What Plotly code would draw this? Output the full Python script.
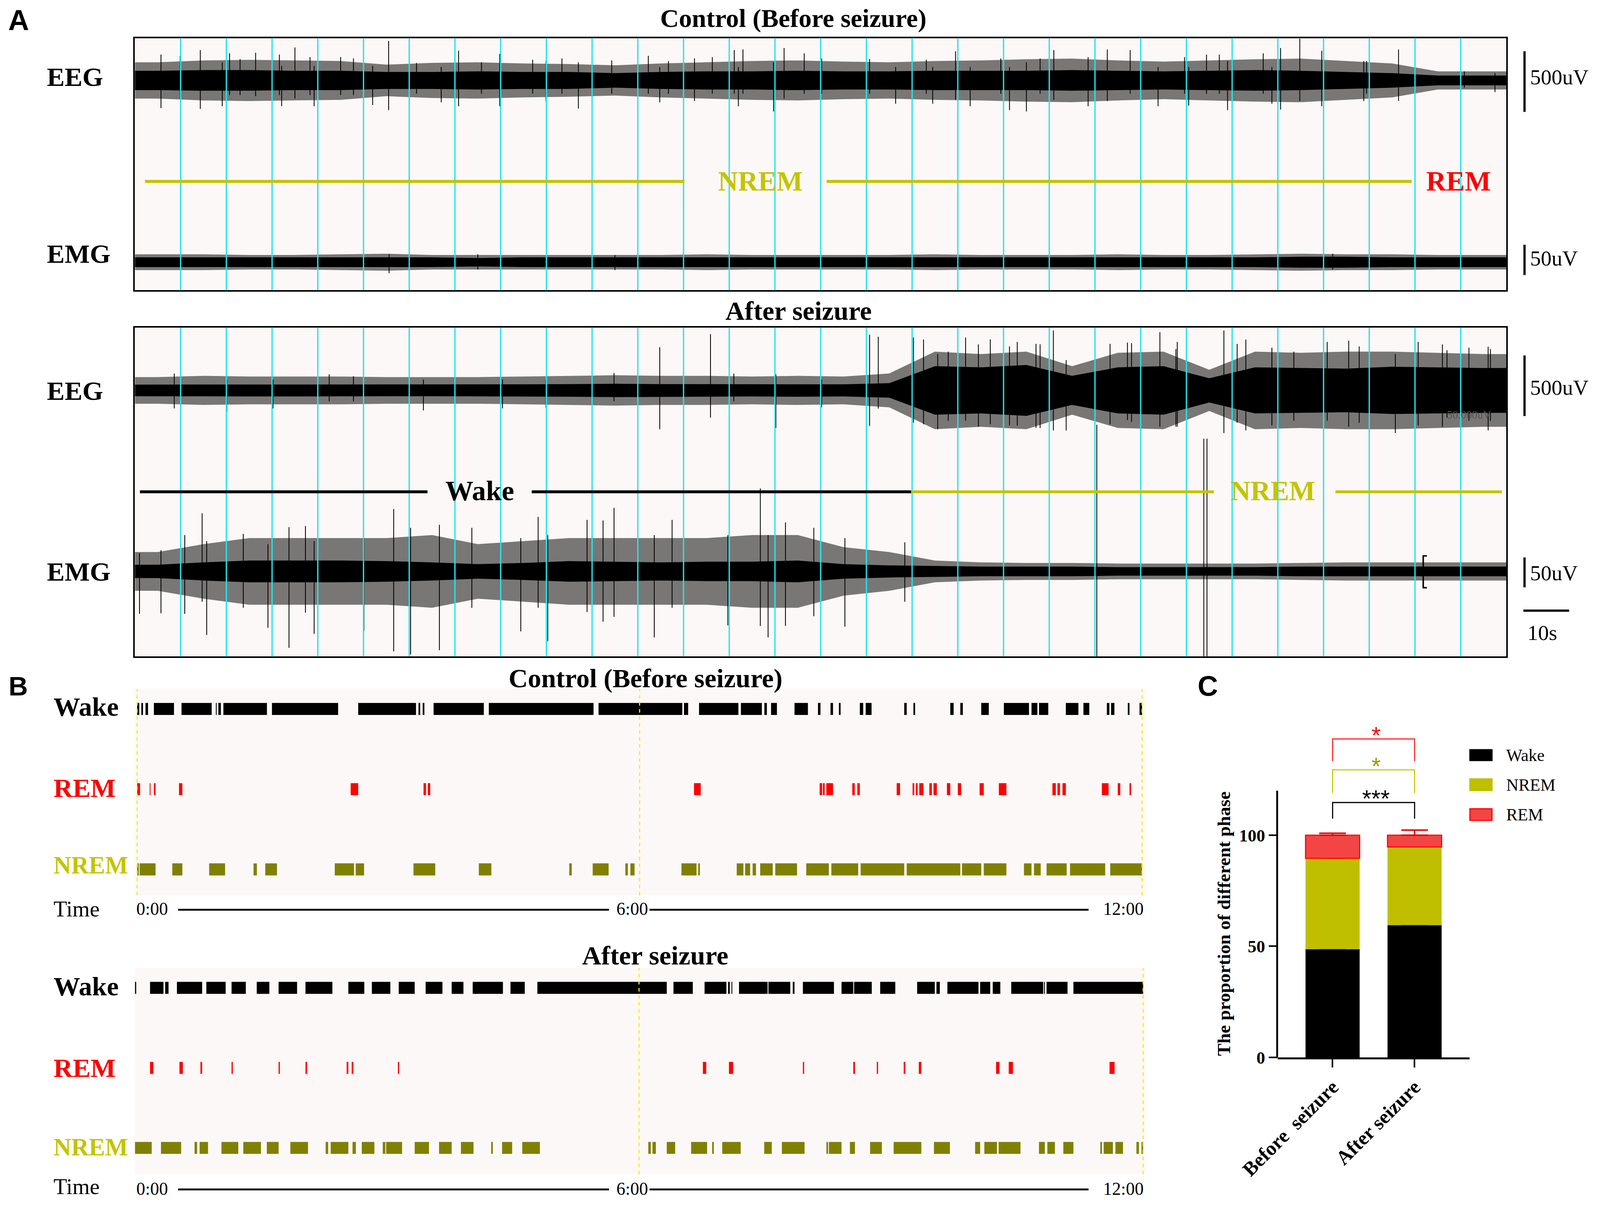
import plotly.graph_objects as go

# layout is designed on the 4317 x 3086 reference grid; positions are stored as
# fractions of that grid and the figure fills the browser window, so px sizes
# (fonts, strokes) are scaled by S to keep them in proportion
W, H = 4317, 3086
S = 0.948
SERIF = "Liberation Serif, Times New Roman, serif"
SANS = "Liberation Sans, Arial, sans-serif"

CYAN = "#22E5EE"
PANEL_BG = "#FCF8F7"
STAGE_YELLOW = "#C4C400"
NREM_DARK = "#808000"
NREM_BAR = "#BFBF00"
RED = "#FF0000"
HALO = "rgba(0,0,0,0.52)"

# ---------------- A: 300 s excerpts, amplitude per 10 s segment (uV) ----------------
seg_t = list(range(5, 300, 10))

ctrl_eeg_core = [80, 85, 85, 80, 80, 70, 70, 75, 70, 70, 60, 70, 75, 75, 80,
                 75, 75, 80, 80, 80, 85, 80, 75, 80, 85, 80, 70, 60, 40, 40]
ctrl_eeg_outer = [150, 165, 170, 165, 160, 130, 145, 150, 140, 135, 125, 140, 150, 160, 165,
                  155, 150, 160, 165, 175, 180, 165, 155, 165, 175, 180, 160, 140, 75, 75]
ctrl_emg_core = [8, 8, 8, 8, 8, 8, 8, 7, 8, 8, 8, 8, 8, 8, 8,
                 8, 8, 8, 8, 8, 8, 8, 8, 8, 8, 9, 9, 8, 8, 8]
ctrl_emg_outer = [13, 13, 12, 12, 13, 14, 12, 12, 12, 12, 12, 12, 13, 12, 12,
                  12, 12, 13, 12, 12, 12, 13, 12, 12, 13, 14, 13, 13, 12, 12]

after_eeg_core = [48, 50, 50, 50, 50, 48, 48, 50, 50, 52, 55, 52, 52, 50, 52,
                  50, 60, 200, 190, 210, 120, 190, 200, 100, 190, 185, 180, 195, 190, 185]
after_eeg_outer = [110, 120, 115, 115, 115, 110, 110, 110, 115, 120, 125, 120, 120, 115, 120,
                   115, 140, 320, 300, 320, 200, 310, 320, 170, 320, 310, 320, 320, 310, 300]
after_emg_core = [11, 15, 18, 18, 18, 17, 15, 12, 14, 17, 16, 15, 16, 16, 18,
                  12, 10, 9, 8, 8, 8, 7, 7, 7, 7, 8, 8, 8, 8, 8]
after_emg_outer = [32, 45, 55, 55, 55, 55, 60, 45, 50, 55, 55, 55, 55, 60, 60,
                   40, 32, 18, 15, 14, 14, 13, 13, 13, 13, 14, 15, 15, 15, 15]

# single visible deflections: (time s, up uV, down uV)
ctrl_eeg_spikes = [
    (5.7, 213, 229), (9.9, 203, 150), (14.3, 250, 235), (19.1, 150, 213), (20.7, 224, 120),
    (23.0, 176, 120), (26.4, 229, 130), (31.6, 213, 120), (32.1, 120, 213), (35.0, 272, 150),
    (38.3, 192, 120), (39.2, 120, 213), (45.0, 192, 120), (47.8, 181, 120), (52.0, 120, 203),
    (55.5, 325, 245), (61.6, 144, 110), (67.0, 110, 181), (70.8, 245, 213), (75.8, 149, 110),
    (79.8, 219, 213), (87.0, 171, 110), (89.9, 160, 170), (93.4, 181, 110), (97.0, 150, 232),
    (104.3, 165, 110), (112.3, 203, 110), (114.8, 110, 181), (116.7, 160, 110),
    (122.4, 181, 170), (126.3, 192, 110), (131.1, 250, 110), (132.0, 110, 213),
    (133.0, 256, 110), (139.7, 150, 256), (142.0, 267, 150), (146.4, 224, 110),
    (150.2, 181, 110), (160.7, 176, 110), (166.4, 110, 192), (173.1, 171, 110),
    (174.5, 110, 192), (179.5, 240, 160), (182.7, 110, 213), (189.4, 181, 110),
    (191.3, 110, 245), (195.0, 150, 256), (198.0, 181, 110), (201.0, 250, 160),
    (208.5, 192, 213), (212.7, 255, 170), (217.7, 250, 110), (220.0, 224, 110),
    (223.8, 110, 213), (229.6, 192, 110), (230.5, 110, 208), (234.4, 213, 110),
    (237.2, 213, 110), (239.0, 160, 245), (246.8, 224, 110), (248.7, 110, 192),
    (250.6, 267, 240), (254.8, 345, 170), (259.6, 245, 213), (268.8, 160, 170),
    (269.4, 160, 110), (276.4, 255, 170), (290.8, 75, 60), (297.5, 60, 96)]
ctrl_emg_spikes = [(20.0, 12, 11), (55.6, 13, 18), (75.0, 13, 12), (105.0, 12, 13),
                   (150.0, 14, 12), (190.0, 13, 12), (230.0, 12, 14), (262.0, 14, 12)]
after_eeg_spikes = [
    (8.6, 139, 149), (20.1, 90, 176), (30.2, 90, 149), (42.5, 133, 90), (47.8, 117, 90),
    (63.1, 90, 165), (80.4, 90, 149), (89.9, 90, 144), (104.8, 144, 90), (110.0, 128, 90),
    (114.8, 357, 320), (125.9, 464, 224), (131.0, 139, 90), (140.2, 133, 309),
    (150.2, 90, 139), (160.7, 459, 293), (162.6, 443, 150), (170.3, 437, 267),
    (172.5, 420, 280), (175.6, 300, 320), (177.9, 320, 250), (181.7, 437, 250),
    (184.5, 380, 300), (187.1, 421, 280), (191.3, 363, 288), (193.0, 400, 290),
    (197.1, 384, 309), (198.0, 380, 310), (200.9, 495, 331), (203.7, 250, 331),
    (213.3, 384, 280), (217.1, 395, 245), (218.0, 390, 260), (220.0, 363, 250),
    (224.2, 480, 300), (227.7, 341, 299), (228.0, 400, 300), (238.2, 495, 352),
    (241.1, 384, 267), (243.0, 420, 330), (248.7, 352, 288), (250.0, 380, 300),
    (253.5, 320, 250), (260.8, 400, 250), (265.5, 410, 300), (267.8, 363, 267),
    (270.0, 380, 320), (275.7, 300, 352), (280.7, 400, 290), (286.0, 380, 300),
    (287.0, 331, 224), (291.8, 352, 250), (296.0, 360, 330), (296.5, 341, 250)]
after_emg_spikes = [
    (1.0, 30, 70), (5.7, 35, 69), (10.9, 60, 70), (14.7, 96, 50), (15.7, 50, 105),
    (23.7, 62, 60), (29.1, 45, 93), (33.7, 73, 126), (37.3, 75, 68), (39.2, 50, 103),
    (50.1, 55, 98), (56.6, 103, 132), (60.3, 72, 137), (66.6, 77, 130), (73.7, 72, 60),
    (84.4, 55, 99), (88.2, 90, 60), (90.3, 60, 115), (98.9, 85, 67), (102.4, 84, 83),
    (104.8, 105, 75), (113.6, 60, 109), (117.5, 85, 60), (129.7, 60, 89),
    (136.8, 137, 90), (138.5, 60, 109), (142.3, 81, 90), (148.5, 72, 74),
    (155.3, 55, 91), (168.4, 48, 50), (210.4, 242, 140), (233.8, 219, 140),
    (234.5, 219, 140)]

EEG_GAIN = 156 / 500   # grid px per uV (500 uV scale bar)
EMG_GAIN = 78 / 50     # grid px per uV (50 uV scale bar)

# ---------------- B: 12 h hypnograms, (start h, end h) ----------------
ctrl_wake = [(0.0, 0.025), (0.05, 0.07), (0.10, 0.13), (0.20, 0.44), (0.53, 0.89), (0.94, 0.95),
             (0.97, 1.00), (1.03, 1.55), (1.61, 2.40), (2.64, 3.33), (3.36, 3.38), (3.41, 3.43),
             (3.54, 4.14), (4.20, 5.45), (5.51, 6.51), (6.53, 6.58), (6.71, 7.18), (7.21, 7.46),
             (7.49, 7.52), (7.57, 7.64), (7.85, 8.01), (8.13, 8.16), (8.28, 8.31), (8.38, 8.40),
             (8.63, 8.67), (8.70, 8.77), (9.16, 9.19), (9.27, 9.29), (9.71, 9.75), (9.83, 9.86),
             (10.08, 10.17), (10.35, 10.65), (10.68, 10.75), (10.77, 10.88), (11.09, 11.24),
             (11.30, 11.37), (11.58, 11.61), (11.63, 11.67), (11.83, 11.85), (11.97, 12.0)]
ctrl_rem = [(0.0, 0.035), (0.15, 0.16), (0.20, 0.22), (0.50, 0.54), (2.55, 2.64), (3.42, 3.45),
            (3.47, 3.50), (6.65, 6.73), (8.15, 8.18), (8.19, 8.21), (8.23, 8.31), (8.54, 8.57),
            (8.60, 8.63), (9.07, 9.11), (9.26, 9.28), (9.30, 9.32), (9.34, 9.39), (9.46, 9.49),
            (9.51, 9.55), (9.67, 9.71), (9.80, 9.84), (10.06, 10.11), (10.29, 10.38),
            (10.93, 10.97), (10.99, 11.02), (11.05, 11.09), (11.52, 11.60), (11.71, 11.74),
            (11.85, 11.87)]
ctrl_nrem = [(0.0, 0.02), (0.03, 0.22), (0.42, 0.54), (0.86, 1.05), (1.39, 1.43), (1.53, 1.67),
             (2.36, 2.59), (2.61, 2.71), (3.30, 3.56), (4.08, 4.23), (5.16, 5.19), (5.44, 5.63),
             (5.83, 5.86), (5.89, 5.94), (6.50, 6.68), (6.70, 6.72), (7.16, 7.24), (7.26, 7.32),
             (7.35, 7.39), (7.44, 7.59), (7.62, 7.88), (7.99, 8.26), (8.29, 8.61), (8.64, 9.16),
             (9.19, 9.83), (9.85, 10.08), (10.11, 10.38), (10.59, 10.68), (10.71, 10.79),
             (10.86, 11.10), (11.14, 11.56), (11.62, 12.0)]

after_wake = [(0.0, 0.015), (0.18, 0.34), (0.36, 0.40), (0.50, 0.80), (0.85, 1.08), (1.15, 1.32),
              (1.45, 1.60), (1.71, 1.93), (2.03, 2.35), (2.54, 2.73), (2.82, 3.04), (3.14, 3.33),
              (3.46, 3.66), (3.77, 3.91), (4.02, 4.38), (4.47, 4.64), (4.79, 6.33), (6.41, 6.64),
              (6.78, 7.04), (7.06, 7.08), (7.10, 7.11), (7.19, 7.53), (7.54, 7.80), (7.83, 7.85),
              (7.95, 8.32), (8.41, 8.55), (8.56, 8.77), (8.87, 9.05), (9.31, 9.52), (9.54, 9.58),
              (9.67, 10.04), (10.06, 10.18), (10.21, 10.30), (10.43, 10.81), (10.82, 10.83),
              (10.85, 11.10), (11.17, 12.0)]
after_rem = [(0.18, 0.22), (0.53, 0.57), (0.78, 0.80), (1.15, 1.165), (1.71, 1.725), (2.03, 2.05),
             (2.52, 2.54), (2.58, 2.60), (3.13, 3.145), (6.76, 6.80), (7.07, 7.12), (7.95, 7.965),
             (8.55, 8.57), (8.83, 8.845), (9.15, 9.17), (9.33, 9.36), (10.25, 10.29),
             (10.40, 10.45), (11.60, 11.66)]
after_nrem = [(0.0, 0.20), (0.31, 0.55), (0.71, 0.74), (0.77, 0.87), (1.03, 1.23), (1.29, 1.50),
              (1.57, 1.71), (1.85, 2.06), (2.27, 2.30), (2.33, 2.54), (2.59, 2.63), (2.70, 2.85),
              (2.95, 2.98), (2.99, 3.18), (3.33, 3.50), (3.62, 3.77), (3.88, 4.03), (4.24, 4.26),
              (4.37, 4.49), (4.61, 4.82), (6.11, 6.14), (6.16, 6.20), (6.33, 6.43), (6.62, 6.81),
              (6.87, 6.89), (6.99, 7.21), (7.49, 7.58), (7.70, 7.97), (8.23, 8.25), (8.26, 8.41),
              (8.51, 8.57), (8.75, 8.89), (9.03, 9.36), (9.51, 9.70), (10.00, 10.06),
              (10.11, 10.26), (10.28, 10.54), (10.76, 10.83), (10.86, 10.95), (11.05, 11.17),
              (11.49, 11.51), (11.53, 11.64), (11.67, 11.76), (11.92, 11.95), (11.98, 12.0)]

# ---------------- C: proportion of each phase (%) ----------------
groups = ["Before  seizure", "After seizure"]
wake_mean = [48.7, 59.5]
wake_sem = [2.6, 2.6]
nrem_mean = [40.9, 35.2]
nrem_sem = [2.7, 2.5]
rem_mean = [10.4, 5.3]
rem_sem = [0.9, 2.3]


def px_x(x):
    return x / W


def px_y(y):
    return 1 - y / H


def text(x, y, s, size, color="black", bold=False, xanchor="center", family=SERIF,
         angle=0, yanchor="middle"):
    return dict(x=px_x(x), y=px_y(y), xref="paper", yref="paper", text=s, showarrow=False,
                xanchor=xanchor, yanchor=yanchor, textangle=angle,
                font=dict(family=family, size=size * S, color=color,
                          weight="bold" if bold else "normal"))


def envelope(amp, base, gain, color, xa, ya):
    xs = [0] + seg_t + [300]
    a = [amp[0]] + amp + [amp[-1]]
    upper = [base - v * gain for v in a]
    lower = [base + v * gain for v in a]
    return go.Scatter(x=xs + xs[::-1], y=upper + lower[::-1], mode="lines", fill="toself",
                      fillcolor=color, line=dict(width=0, color=color),
                      xaxis=xa, yaxis=ya, hoverinfo="skip", showlegend=False)


def spikes(sp, base, gain, xa, ya, width=2.2):
    xs, ys = [], []
    for t, up, dn in sp:
        xs += [t, t, None]
        ys += [base - up * gain, base + dn * gain, None]
    return go.Scatter(x=xs, y=ys, mode="lines", line=dict(color="black", width=width * S),
                      xaxis=xa, yaxis=ya, hoverinfo="skip", showlegend=False)


def hyp_bar(segs, row, color, xa, ya):
    starts = [s for s, e in segs]
    lengths = [e - s for s, e in segs]
    return go.Bar(orientation="h", y=[row] * len(segs), x=lengths, base=starts, width=0.15,
                  marker=dict(color=color, line=dict(width=0)),
                  xaxis=xa, yaxis=ya, hoverinfo="skip", showlegend=False)


fig = go.Figure()

# A traces
for xa, ya, eeg_c, eeg_o, emg_c, emg_o, eeg_sp, emg_sp, eeg_base, emg_base in [
    ("x", "y", ctrl_eeg_core, ctrl_eeg_outer, ctrl_emg_core, ctrl_emg_outer,
     ctrl_eeg_spikes, ctrl_emg_spikes, 199, 667),
    ("x2", "y2", after_eeg_core, after_eeg_outer, after_emg_core, after_emg_outer,
     after_eeg_spikes, after_emg_spikes, 997, 1463),
]:
    fig.add_trace(envelope(eeg_o, eeg_base, EEG_GAIN, HALO, xa, ya))
    fig.add_trace(envelope(eeg_c, eeg_base, EEG_GAIN, "black", xa, ya))
    fig.add_trace(spikes(eeg_sp, eeg_base, EEG_GAIN, xa, ya))
    fig.add_trace(envelope(emg_o, emg_base, EMG_GAIN, HALO, xa, ya))
    fig.add_trace(envelope(emg_c, emg_base, EMG_GAIN, "black", xa, ya))
    fig.add_trace(spikes(emg_sp, emg_base, EMG_GAIN, xa, ya))

# B traces (rows: Wake 2, REM 1, NREM 0)
for xa, ya, wk, rm, nr in [("x3", "y3", ctrl_wake, ctrl_rem, ctrl_nrem),
                           ("x4", "y4", after_wake, after_rem, after_nrem)]:
    fig.add_trace(hyp_bar(wk, 2, "black", xa, ya))
    fig.add_trace(hyp_bar(rm, 1, RED, xa, ya))
    fig.add_trace(hyp_bar(nr, 0, NREM_DARK, xa, ya))

# C stacked bars (bases from the means)
nrem_base = wake_mean
rem_base = [w + n for w, n in zip(wake_mean, nrem_mean)]
for vals, base, sem, fill, edge, ecol in [
    (wake_mean, [0, 0], wake_sem, "black", "black", "black"),
    (nrem_mean, nrem_base, nrem_sem, NREM_BAR, NREM_BAR, "#D0B000"),
    (rem_mean, rem_base, rem_sem, "#F44545", RED, "#E00000"),
]:
    fig.add_trace(go.Bar(x=[0, 1], y=vals, base=base, width=0.66,
                         marker=dict(color=fill, line=dict(width=3 * S if fill != edge else 0,
                                                           color=edge)),
                         error_y=dict(type="data", symmetric=False, array=sem, arrayminus=[0, 0],
                                      color=ecol, thickness=4 * S, width=36 * S),
                         xaxis="x5", yaxis="y5", showlegend=False, hoverinfo="skip"))

# ---------------- axes ----------------
box = dict(showgrid=False, zeroline=False, showticklabels=False, ticks="", showline=True,
           mirror=True, linecolor="black", linewidth=4 * S, fixedrange=True, automargin=False)
hidden = dict(visible=False, fixedrange=True, automargin=False)
hx = 12 / 2722   # hours per grid px, control hypnogram
hx2 = 12 / 2731  # hours per grid px, after-seizure hypnogram

fig.update_layout(
    autosize=True, margin=dict(l=0, r=0, t=0, b=0, pad=0, autoexpand=False),
    paper_bgcolor="white", plot_bgcolor="white", barmode="overlay",
    xaxis=dict(domain=[px_x(357), px_x(4072)], range=[0, 300], anchor="y", **box),
    yaxis=dict(domain=[px_y(739), px_y(90)], range=[739, 90], anchor="x", **box),
    xaxis2=dict(domain=[px_x(357), px_x(4072)], range=[0, 300], anchor="y2", **box),
    yaxis2=dict(domain=[px_y(1682), px_y(835)], range=[1682, 835], anchor="x2", **box),
    xaxis3=dict(domain=[px_x(357), px_x(3095)], range=[-6 * hx, 2732 * hx], anchor="y3", **hidden),
    yaxis3=dict(domain=[px_y(2297), px_y(1766)], range=[-0.324, 2.247], anchor="x3", **hidden),
    xaxis4=dict(domain=[px_x(357), px_x(3095)], range=[0, 2738 * hx2], anchor="y4", **hidden),
    yaxis4=dict(domain=[px_y(3015), px_y(2484)], range=[-0.33, 2.248], anchor="x4", **hidden),
    xaxis5=dict(domain=[px_x(3453), px_x(3972)], range=[-0.667, 1.67], anchor="y5",
                tickvals=[0, 1], ticktext=groups, tickangle=-45, ticks="outside",
                ticklen=22 * S, tickwidth=4 * S, tickcolor="black", showline=True,
                linewidth=5 * S, linecolor="black", showgrid=False, zeroline=False,
                fixedrange=True, automargin=False,
                tickfont=dict(family=SERIF, size=54 * S, color="black", weight="bold")),
    yaxis5=dict(domain=[px_y(2714), px_y(1856)], range=[0, 150], anchor="x5",
                tickvals=[0, 50, 100], ticks="outside", ticklen=24 * S, tickwidth=4 * S,
                tickcolor="black", showline=False, showgrid=False, zeroline=False,
                fixedrange=True, automargin=False,
                tickfont=dict(family=SERIF, size=47 * S, color="black", weight="bold")),
)

# ---------------- shapes ----------------
shapes = []
for xa, ya in [("x", "y"), ("x2", "y2"), ("x3", "y3"), ("x4", "y4")]:
    shapes.append(dict(type="rect", xref=xa + " domain", yref=ya + " domain", x0=0, x1=1,
                       y0=0, y1=1, fillcolor=PANEL_BG, line=dict(width=0), layer="below"))

# 10 s grid lines in A
for xa, ya in [("x", "y"), ("x2", "y2")]:
    for k in range(1, 30):
        shapes.append(dict(type="line", xref=xa, yref=ya + " domain", x0=10 * k, x1=10 * k,
                           y0=0, y1=1, line=dict(color=CYAN, width=3.5 * S), layer="above"))

# stage bars in A
for x0, x1, y, col in [(2.2, 120.2, 459, STAGE_YELLOW), (151.3, 279.3, 459, STAGE_YELLOW)]:
    shapes.append(dict(type="line", xref="x", yref="y", x0=x0, x1=x1, y0=y, y1=y,
                       line=dict(color=col, width=8 * S)))
for x0, x1, y, col in [(1.1, 64.0, 1258, "black"), (86.8, 169.8, 1258, "black"),
                       (169.8, 236.0, 1258, STAGE_YELLOW), (262.6, 299.0, 1258, STAGE_YELLOW)]:
    shapes.append(dict(type="line", xref="x2", yref="y2", x0=x0, x1=x1, y0=y, y1=y,
                       line=dict(color=col, width=8 * S)))
# small bracket artefact on the after-seizure EMG
shapes.append(dict(type="path", xref="x2", yref="y2",
                   path="M 282.6 1423 L 281.8 1423 L 281.8 1505 L 282.6 1505",
                   line=dict(color="black", width=4 * S)))

# scale bars
for x0, y0, x1, y1 in [(4121, 124, 4121, 280), (4121, 622, 4121, 700),
                       (4121, 907, 4121, 1063), (4121, 1427, 4121, 1504),
                       (4118, 1564, 4242, 1564)]:
    shapes.append(dict(type="line", xref="paper", yref="paper", x0=px_x(x0), x1=px_x(x1),
                       y0=px_y(y0), y1=px_y(y1), line=dict(color="black", width=6 * S)))

# dashed 6 h markers in B
for xa, ya, hrs in [("x3", "y3", [0, 6, 12]), ("x4", "y4", [6, 12])]:
    for h in hrs:
        shapes.append(dict(type="line", xref=xa, yref=ya + " domain", x0=h, x1=h, y0=0, y1=1,
                           line=dict(color="#F5EE00", width=3 * S, dash="dash"), layer="above"))

# time rulers in B
for y in [2334, 3054]:
    for x0, x1 in [(474, 1641), (1751, 2940)]:
        shapes.append(dict(type="line", xref="paper", yref="paper", x0=px_x(x0), x1=px_x(x1),
                           y0=px_y(y), y1=px_y(y), line=dict(color="black", width=5 * S)))

# C: y axis line up to 120 only, significance brackets, legend keys
shapes.append(dict(type="line", xref="paper", yref="y5", x0=px_x(3451), x1=px_x(3451),
                   y0=0, y1=120, line=dict(color="black", width=5 * S)))
for lo, hi, col in [(107.4, 114.7, "black"), (119.0, 129.4, "#C8C800"), (133.3, 143.3, "#FF2A2A")]:
    shapes.append(dict(type="path", xref="x5", yref="y5",
                       path=f"M 0 {lo} L 0 {hi} L 1 {hi} L 1 {lo}",
                       line=dict(color=col, width=3 * S)))
for y0, y1, fill, edge in [(1922, 1950, "black", "black"), (1997, 2027, NREM_BAR, NREM_BAR),
                           (2074, 2104, "#F44545", RED)]:
    shapes.append(dict(type="rect", xref="paper", yref="paper", x0=px_x(3973), x1=px_x(4033),
                       y0=px_y(y1), y1=px_y(y0), fillcolor=fill,
                       line=dict(color=edge, width=3 * S)))

# ---------------- text ----------------
ann = [
    text(12, 0, "A", 78, bold=True, family=SANS, xanchor="left", yanchor="top"),
    text(41, 1758, "B", 72, bold=True, family=SANS),
    text(3263, 1758, "C", 76, bold=True, family=SANS),

    text(2141, 0, "Control (Before seizure)", 70, bold=True, yanchor="top"),
    text(2155, 792, "After seizure", 72, bold=True),
    text(116, 190, "EEG", 72, bold=True, xanchor="left"),
    text(116, 645, "EMG", 72, bold=True, xanchor="left"),
    text(116, 998, "EEG", 72, bold=True, xanchor="left"),
    text(116, 1464, "EMG", 72, bold=True, xanchor="left"),
    text(2051, 458, "NREM", 75, color=STAGE_YELLOW, bold=True),
    text(3942, 458, "REM", 75, color=RED, bold=True),
    text(1291, 1256, "Wake", 76, bold=True),
    text(3439, 1256, "NREM", 75, color=STAGE_YELLOW, bold=True),
    text(4134, 190, "500uV", 58, xanchor="left"),
    text(4134, 657, "50uV", 58, xanchor="left"),
    text(4134, 990, "500uV", 58, xanchor="left"),
    text(4134, 1467, "50uV", 58, xanchor="left"),
    text(4127, 1621, "10s", 58, xanchor="left"),
    text(3970, 1060, "50.000uV", 30, color="#555555"),

    text(1740, 1738, "Control (Before seizure)", 72, bold=True),
    text(1767, 2452, "After seizure", 72, bold=True),
    text(134, 1811, "Wake", 72, bold=True, xanchor="left"),
    text(134, 2020, "REM", 72, color=RED, bold=True, xanchor="left"),
    text(134, 2220, "NREM", 66, color=STAGE_YELLOW, bold=True, xanchor="left"),
    text(134, 2531, "Wake", 72, bold=True, xanchor="left"),
    text(134, 2741, "REM", 72, color=RED, bold=True, xanchor="left"),
    text(134, 2945, "NREM", 66, color=STAGE_YELLOW, bold=True, xanchor="left"),
]
for y, time_y in [(2332, 2332), (3052, 3046)]:
    ann += [
        text(134, time_y, "Time", 60, xanchor="left"),
        text(359, y, "0:00", 48, xanchor="left"),
        text(1704, y, "6:00", 48),
        text(3092, y, "12:00", 48, xanchor="right"),
    ]

ann += [
    text(3306, 2370, "The proportion of different phase", 50, bold=True, angle=-90),
    text(4069, 1936, "Wake", 46, xanchor="left"),
    text(4069, 2012, "NREM", 46, xanchor="left"),
    text(4069, 2089, "REM", 46, xanchor="left"),
]
for y, s, col in [(116.5, "***", "black"), (131.0, "*", "#9A9A00"), (145.0, "*", RED)]:
    ann.append(dict(x=0.53, y=y, xref="x5", yref="y5", text=s, showarrow=False,
                    xanchor="center", yanchor="middle",
                    font=dict(family=SANS, size=64 * S, color=col)))

fig.update_layout(shapes=shapes, annotations=ann)
# the page is sized to the window rather than to fixed pixels
fig.write_html("out.html", default_width="calc(100vw - 16px)",
               default_height="calc(100vh - 16px)")
